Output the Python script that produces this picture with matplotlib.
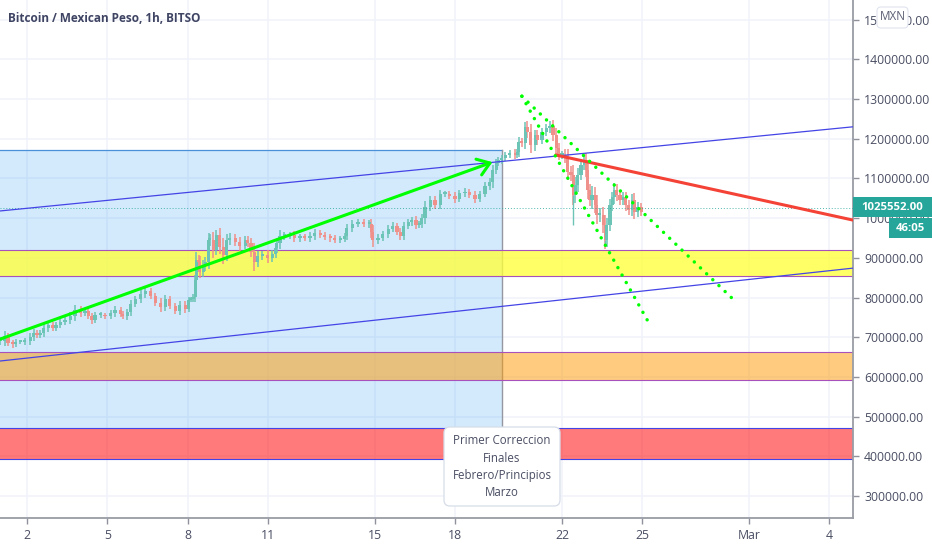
import matplotlib
matplotlib.use("Agg")
import matplotlib.pyplot as plt
from matplotlib.patches import Rectangle, FancyBboxPatch
import numpy as np

W, H = 932, 550
plt.rcParams["font.family"] = ["Open Sans", "DejaVu Sans"]

# bars: hours since Feb 1 00:00, close in thousands of MXN, wick length
bar_hours = [0,4,7,11,14,18,22,27,30,33,
    36,39,43,47,50,54,58,63,67,72,
    76,79,82,85,90,94,99,103,108,110,
    114,117,121,126,130,135,139,144,148,152,
    157,161,166,169,171,173,175,176,178,179,
    182,184,187,188,191,194,197,200,203,206,
    211,215,220,222,225,228,231,235,240,244,
    247,248,251,255,260,264,269,273,278,282,
    287,291,296,300,305,309,311,316,321,326,
    331,333,334,339,343,348,352,356,359,362,
    366,369,373,376,378,381,386,390,395,399,
    403,408,412,417,421,426,430,435,439,442,
    445,447,450,453,457,462,464,465,468,471,
    473,476,480,482,486,490,493,496,499,501,
    504,507,509,512,514,516,518,521,524,526,
    527,529,531,534,535,538,541,543,544,547,
    549,551,553,556,559,561,564,567,569,572,
    575]
closes = [690,703,685,683,688,688,690,700,711,706,
    711,723,731,723,731,738,743,753,769,761,
    766,753,743,756,756,753,761,769,758,753,
    763,784,796,809,816,804,786,776,796,779,
    766,781,771,794,796,801,844,894,889,864,
    882,889,945,945,920,957,927,907,945,950,
    940,930,945,937,915,889,905,907,900,910,
    925,937,955,955,957,950,952,950,955,963,
    957,952,950,945,947,955,975,985,990,985,
    985,965,945,950,960,973,980,965,955,980,
    990,995,983,985,1000,1028,1046,1033,1061,1061,
    1056,1048,1063,1066,1058,1048,1061,1081,1091,1121,
    1139,1146,1151,1159,1164,1159,1166,1192,1189,1229,
    1217,1184,1209,1197,1217,1227,1232,1209,1177,1159,
    1159,1154,1116,1109,1058,1083,1109,1134,1146,1121,
    1071,1046,1058,1033,1008,1008,983,945,983,1033,
    1053,1071,1058,1046,1053,1033,1020,1046,1015,1028,
    1015]
wicks = [10,12,8,9,7,6,8,10,9,7,
    8,10,9,8,7,9,8,10,11,9,
    8,7,9,8,7,6,8,9,7,8,
    9,10,9,10,11,9,8,12,10,9,
    8,9,10,7,6,8,12,20,14,16,
    12,14,18,16,20,14,18,22,16,12,
    10,12,9,10,14,22,12,10,12,10,
    10,12,14,9,8,10,9,8,10,9,
    8,7,9,8,7,8,10,9,7,8,
    10,14,18,9,8,10,9,8,10,9,
    8,9,10,8,10,14,10,9,10,8,
    7,9,8,9,7,10,8,9,10,14,
    10,8,9,8,7,9,8,12,10,14,
    16,20,14,12,10,9,12,16,18,12,
    10,14,20,16,24,20,16,14,12,18,
    24,16,22,20,24,18,20,24,18,16,
    14,18,16,14,12,14,12,14,16,12,
    10]

# long lower shadows on the drop after Feb 21
spike_hours = [514, 543]
spike_lows = [983, 932]

x_tick_days = [2, 5, 8, 11, 15, 18, 22, 25, 29, 32]
x_tick_labels = ["2", "5", "8", "11", "15", "18", "22", "25", "Mar", "4"]
y_ticks = [300, 400, 500, 600, 700, 800, 900, 1000, 1100, 1200, 1300, 1400, 1500]

# horizontal zones (low, high) in thousands
yellow_zone = (854, 920)
orange_zone = (592, 663)
red_zone = (393, 471)
blue_box_days = (0.5, 19.76)
blue_box_prices = (471, 1172)

# drawn lines as (day, price) ends
upper_channel = ([0.99, 32.88], [1018, 1230])
lower_channel = ([0.99, 32.88], [640, 874])
green_arrow = ([0.99, 19.40], [695, 1141])
red_line = ([21.77, 32.88], [1159, 995])
dots_right = ([20.50, 28.47], [1307, 791])
dots_left = ([20.50, 25.29], [1307, 731])
last_price = 1025.552

note_lines = ["Primer Correccion", "Finales", "Febrero/Principios", "Marzo"]

TEXT = "#4a4e63"
GRID = "#f0f3fa"
PURPLE = "#a850bc"
BLUE_LINE = "#4444e6"
TEAL = "#26a69a"

fig = plt.figure(figsize=(W / 100, H / 100), dpi=100, facecolor="white")
ax = fig.add_axes([0, 32 / H, 853 / W, 518 / H])
ax.set_xlim(0.99, 32.88)
ax.set_ylim(244.6, 1549.4)

ax.grid(True, color=GRID, lw=1.1, zorder=0)
ax.set_axisbelow(True)
ax.set_xticks(x_tick_days)
ax.set_xticklabels(x_tick_labels)
ax.set_yticks(y_ticks)
ax.set_yticklabels([f"{v * 1000:.2f}" for v in y_ticks])
ax.yaxis.tick_right()
ax.tick_params(colors="#8f929c", labelcolor=TEXT, labelsize=8.8, length=4, width=1, pad=4)
for name in ["top", "left"]:
    ax.spines[name].set_visible(False)
for name in ["right", "bottom"]:
    ax.spines[name].set_color("#9a9ca5")
    ax.spines[name].set_linewidth(1.3)

# blue box first so the zones sit on top of it
x0, x1 = blue_box_days
y0, y1 = blue_box_prices
ax.add_patch(Rectangle((x0, y0), x1 - x0, y1 - y0, fc="#2196f3", alpha=0.2, ec="none", zorder=1))
ax.plot([x0, x1], [y1, y1], color="#4a90d9", lw=0.9, zorder=2)
ax.plot([x1, x1], [y0, y1], color="#9598a1", lw=1, zorder=2)

for zone, col, alpha, top_col, bot_col in [
    (yellow_zone, "#ffff3b", 0.78, PURPLE, PURPLE),
    (orange_zone, "#ff9800", 0.5, PURPLE, PURPLE),
    (red_zone, "#ff0000", 0.52, BLUE_LINE, BLUE_LINE),
]:
    ax.axhspan(zone[0], zone[1], fc=col, alpha=alpha, ec="none", zorder=2)
    ax.axhline(zone[1], color=top_col, lw=0.8, zorder=2.2)
    ax.axhline(zone[0], color=bot_col, lw=0.8, zorder=2.2)

# candles
days = 1 + np.array(bar_hours) / 24
closes_arr = np.array(closes, dtype=float)
opens_arr = np.r_[closes_arr[0], closes_arr[:-1]]
wick_arr = np.array(wicks, dtype=float)
up = closes_arr >= opens_arr
colors = np.where(up, "#6cc4b6", "#f0908a")
tops = np.maximum(opens_arr, closes_arr)
bots = np.minimum(opens_arr, closes_arr)
ax.vlines(days, bots - wick_arr, tops + wick_arr, colors=colors, lw=1.1, zorder=3)
ax.bar(days, np.maximum(tops - bots, 4), bottom=bots, width=0.12, color=colors, zorder=3.1)
for h, low in zip(spike_hours, spike_lows):
    d = 1 + h / 24
    ax.vlines(d, low, closes[bar_hours.index(h)], colors="#6cc4b6", lw=1, zorder=3)

ax.axhline(last_price, color=TEAL, lw=0.7, ls=(0, (1, 2)), alpha=0.8, zorder=3.2)

# drawings
ax.plot(*upper_channel, color=BLUE_LINE, lw=0.9, zorder=4)
ax.plot(*lower_channel, color=BLUE_LINE, lw=0.9, zorder=4)
ax.plot(*red_line, color="#f44336", lw=2.2, zorder=4.2, solid_capstyle="round")
ax.annotate("", xy=(green_arrow[0][1], green_arrow[1][1]), xytext=(green_arrow[0][0], green_arrow[1][0]),
            arrowprops=dict(arrowstyle="->,head_length=0.85,head_width=0.6", color="#00ff00", lw=2.2,
                            shrinkA=0, shrinkB=0), zorder=4.3)
for line in [dots_right, dots_left]:
    ax.plot(*line, color="#00ff00", lw=2.5, ls=(0, (0.01, 2.45)), dash_capstyle="round", zorder=4.4)


def fx(px):
    return px / W


def fy(px):
    return 1 - px / H


def px_rect(x, y, w, h, **kw):
    r = Rectangle((fx(x), fy(y + h)), w / W, h / H, transform=fig.transFigure, **kw)
    fig.add_artist(r)


def px_round(x, y, w, h, pad=5, **kw):
    r = FancyBboxPatch((fx(x + pad), fy(y + h - pad)), (w - 2 * pad) / W, (h - 2 * pad) / H,
                       boxstyle=f"round,pad=0,rounding_size={pad / W}",
                       mutation_aspect=W / H, transform=fig.transFigure, **kw)
    r.set_boxstyle("round", pad=pad / W, rounding_size=pad / W)
    fig.add_artist(r)


# title
fig.text(fx(8), fy(18), "Bitcoin / Mexican Peso, 1h, BITSO", color="#3f4463", fontsize=8.5,
         fontweight="bold", va="center", ha="left")

# MXN button
px_round(877, 7, 31, 21, pad=4, fc="white", ec="#dfe4ee", lw=0.8, zorder=5)
fig.text(fx(892.5), fy(17), "MXN", color="#5a5e72", fontsize=8.4, ha="center", va="center", zorder=6)

# price tags
px_rect(853, 197, 79, 20, fc=TEAL, ec="none", zorder=5)
fig.text(fx(892.5), fy(207.5), f"{last_price * 1000:.2f}", color="white", fontsize=8.2,
         fontweight="bold", ha="center", va="center", zorder=6)
px_rect(889, 218, 43, 20, fc=TEAL, ec="none", zorder=5)
fig.text(fx(910), fy(228.5), "46:05", color="white", fontsize=8.2, fontweight="bold",
         ha="center", va="center", zorder=6)

# note box
px_round(444, 427, 116, 79, pad=6, fc="white", ec="#d6dce8", lw=0.9, zorder=5)
for i, line in enumerate(note_lines):
    fig.text(fx(502), fy(441 + i * 17), line, color=TEXT, fontsize=8.3, ha="center", va="center", zorder=6)

fig.savefig("out.png", dpi=100, facecolor="white")
